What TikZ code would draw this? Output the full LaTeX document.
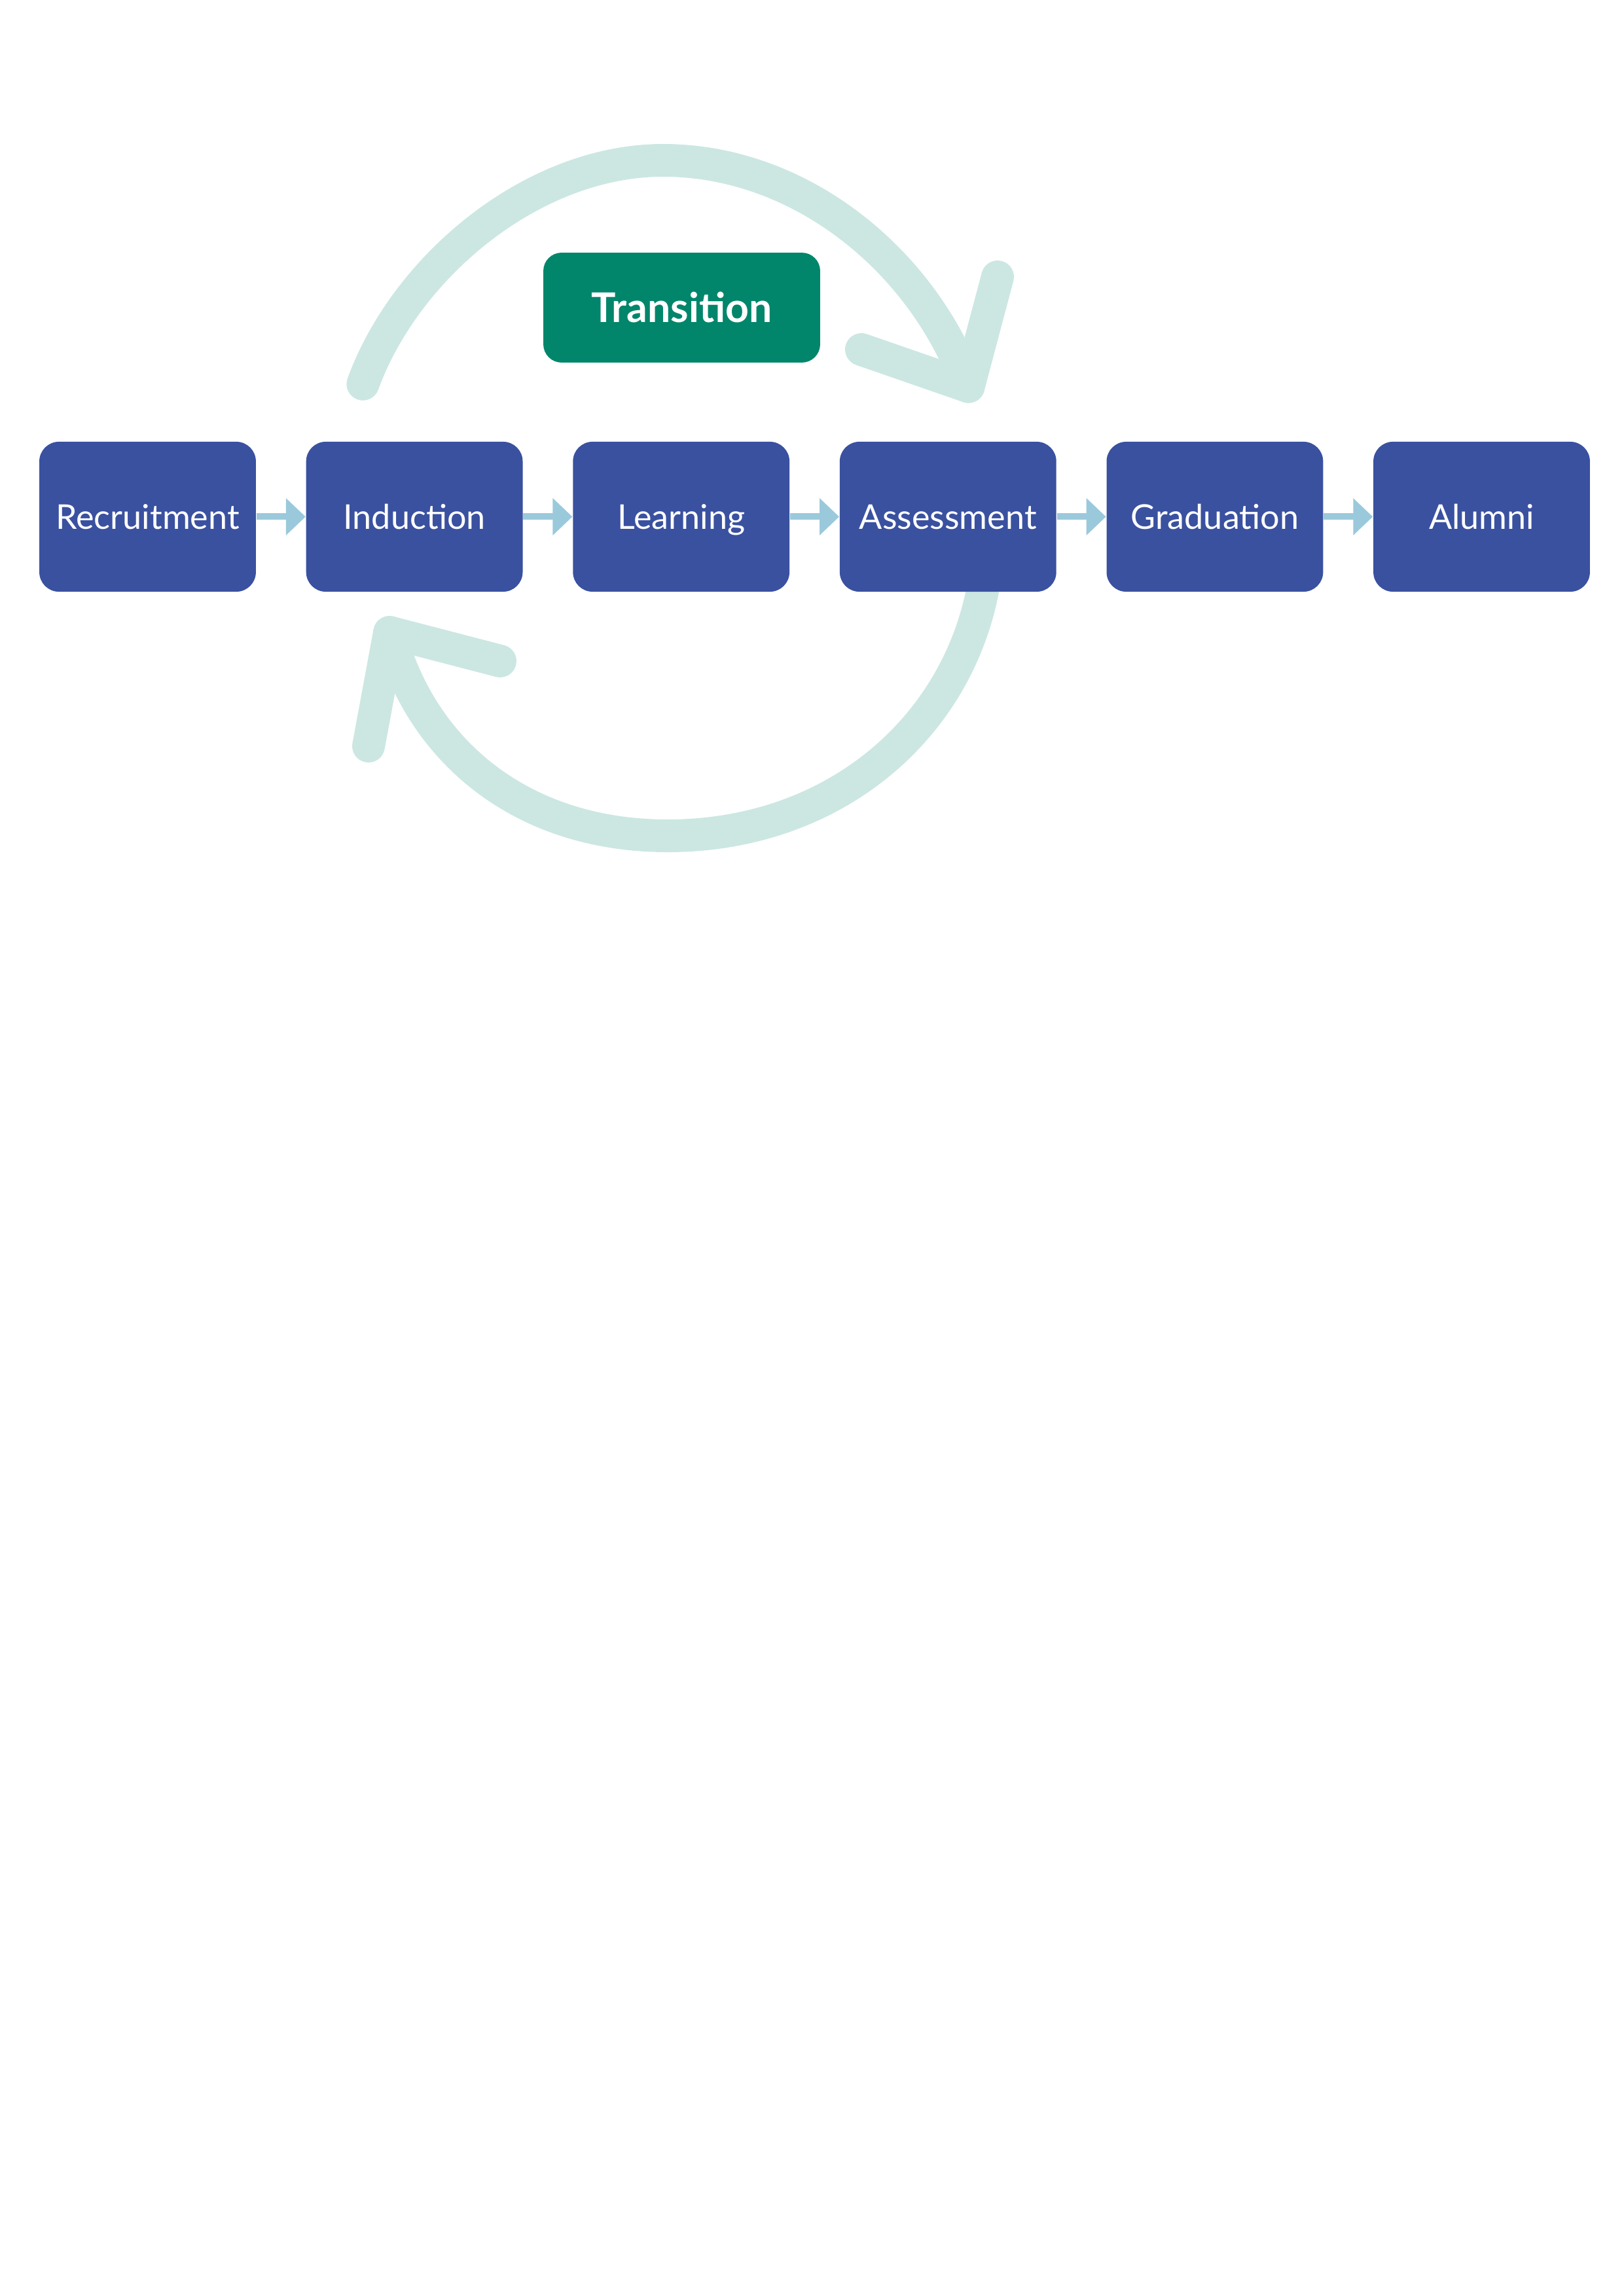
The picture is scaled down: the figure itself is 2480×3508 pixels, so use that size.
\documentclass[tikz,border=0pt]{standalone}
\usepackage{fontspec}
\setmainfont{Lato}
\usetikzlibrary{arrows.meta}
\definecolor{boxblue}{RGB}{58,81,160}
\definecolor{transteal}{RGB}{2,134,107}
\definecolor{arcmint}{RGB}{204,231,226}
\definecolor{flowblue}{RGB}{155,201,220}
\tikzset{
  stagebox/.style={rectangle, rounded corners=7.2pt, fill=boxblue, draw=none,
    minimum width=79.4pt, minimum height=55pt, inner sep=0pt,
    text=white, font=\fontsize{12.5}{14}\selectfont, text height=8.96pt, text depth=0pt},
  transbox/.style={rectangle, rounded corners=6.7pt, fill=transteal, draw=none,
    minimum width=101.5pt, minimum height=40.3pt, inner sep=0pt,
    text=white, font=\bfseries\fontsize{15}{18}\selectfont, text height=10.75pt, text depth=0pt},
  flowarrow/.style={draw=flowblue, line width=2.4pt,
    -{Triangle[length=7.2pt, width=13.2pt]}},
  cyclearc/.style={draw=arcmint, line width=12pt, line cap=round, line join=round}
}
\begin{document}
\begin{tikzpicture}[x=0.24pt, y=-0.24pt]
\useasboundingbox (0,0) rectangle (2480,3508);
% upper cycle arrow (drawn first, beneath boxes)
\coordinate (tstart) at (554.4,586.8);
\coordinate (ttop) at (1013,245);
\coordinate (ttip) at (1479.5,590.7);
\coordinate (tarm1) at (1524,423);
\coordinate (tarm2) at (1316,534);
\draw[cyclearc] (tstart) .. controls (619.4,408.2) and (813,245) .. (ttop)
  .. controls (1223,245) and (1409.4,398.0) .. (ttip);
\draw[cyclearc] (tarm1) -- (ttip) -- (tarm2);
% lower cycle arrow
\coordinate (bstart) at (1508.2,852.0);
\coordinate (bbot) at (1020,1277);
\coordinate (btip) at (595.2,966.1);
\coordinate (barm1) at (563,1140);
\coordinate (barm2) at (764,1010);
\draw[cyclearc] (bstart) .. controls (1487.3,1091.1) and (1290,1277) .. (bbot)
  .. controls (790,1277) and (640.3,1140.4) .. (btip);
\draw[cyclearc] (barm1) -- (btip) -- (barm2);
% stage boxes
\node[stagebox] (rec) at (225.5,789.5) {Recruitment};
\node[stagebox] (ind) at (633.1,789.5) {Induction};
\node[stagebox] (lea) at (1040.7,789.5) {Learning};
\node[stagebox] (ass) at (1448.3,789.5) {Assessment};
\node[stagebox] (gra) at (1855.9,789.5) {Graduation};
\node[stagebox] (alu) at (2263.5,789.5) {Alumni};
\node[transbox] (tra) at (1041.5,470) {Transition};
% flow arrows
\draw[flowarrow] (rec.east) -- (ind.west);
\draw[flowarrow] (ind.east) -- (lea.west);
\draw[flowarrow] (lea.east) -- (ass.west);
\draw[flowarrow] (ass.east) -- (gra.west);
\draw[flowarrow] (gra.east) -- (alu.west);
\end{tikzpicture}
\end{document}
